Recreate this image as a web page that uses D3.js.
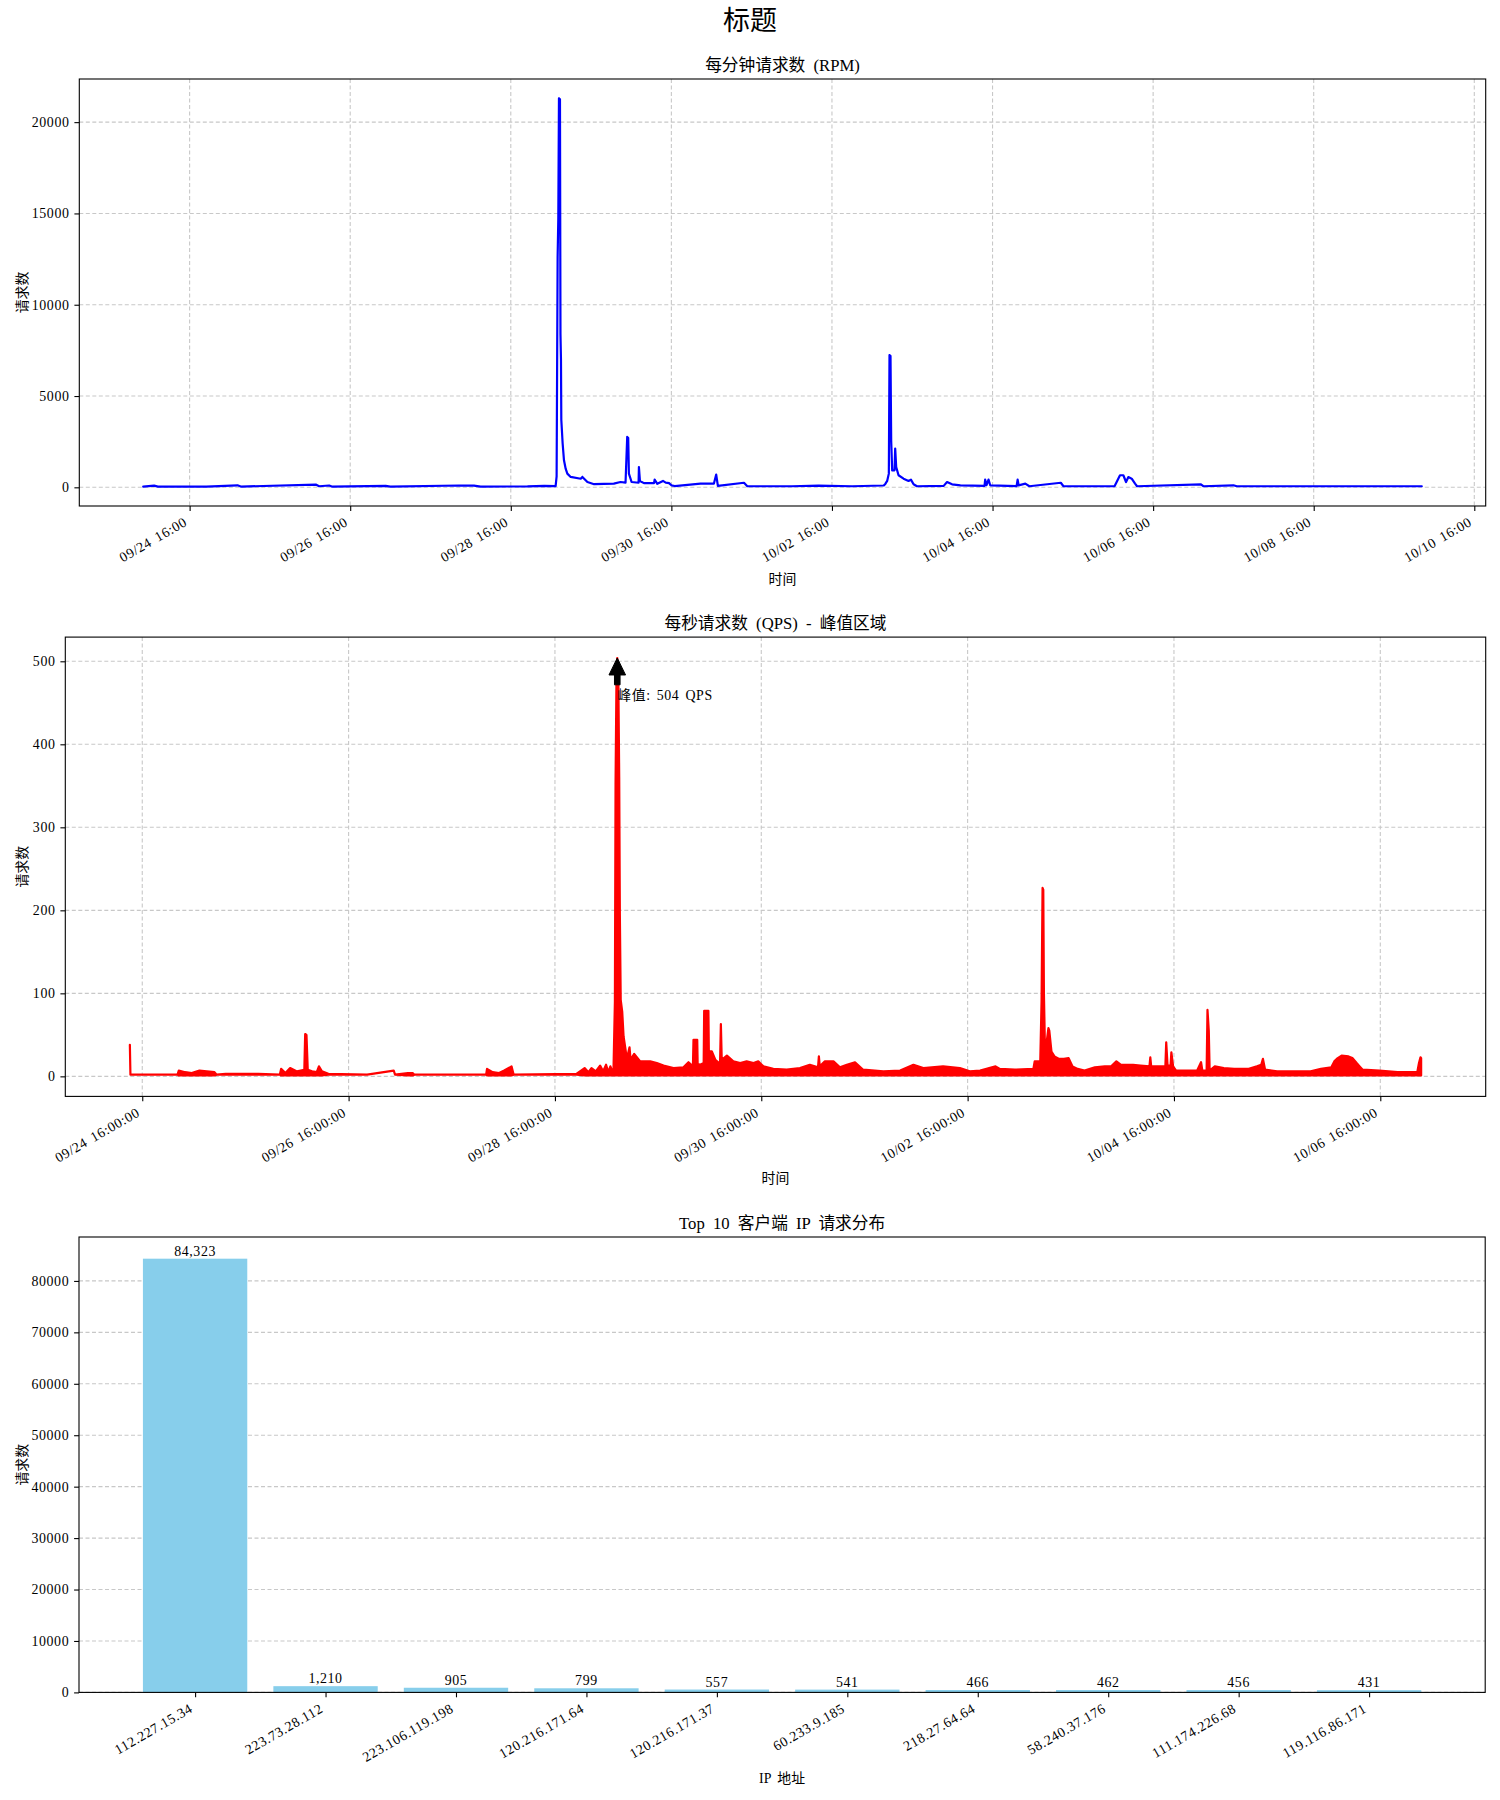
<!DOCTYPE html>
<html>
<head>
<meta charset="utf-8">
<title>标题</title>
<script src="https://cdn.jsdelivr.net/npm/d3@7/dist/d3.min.js"></script>
<style>
  body { margin: 0; background: #ffffff; }
  text { font-family: "Liberation Serif", "Noto Sans CJK SC", serif; fill: #000; }
  .num { font-size: 13.9px; letter-spacing: 0.6px; word-spacing: 2px; }
  .label { font-size: 13.9px; word-spacing: 3px; }
  .title { font-size: 16.7px; word-spacing: 4px; }
  .suptitle { font-size: 27px; }
</style>
</head>
<body>
<svg id="chart" width="1500" height="1800"></svg>
<script>
const YEAR = "2025";
const figTitle = "标题";

// 每分钟请求数: [time, requests per minute]
const rpmPoints = [
  ["09/24 02:08", 40], ["09/24 05:24", 90], ["09/24 06:30", 40], ["09/24 21:00", 40], ["09/25 06:18", 110], ["09/25 07:18", 40],
  ["09/26 05:42", 150], ["09/26 06:42", 60], ["09/26 09:42", 100], ["09/26 10:30", 40], ["09/27 02:36", 80], ["09/27 04:00", 40],
  ["09/28 00:30", 100], ["09/28 05:00", 90], ["09/28 07:00", 40], ["09/28 21:00", 50], ["09/29 02:00", 80], ["09/29 05:24", 70],
  ["09/29 05:42", 600], ["09/29 06:00", 12600], ["09/29 06:12", 14700], ["09/29 06:24", 21300], ["09/29 06:42", 21250], ["09/29 06:51", 8400],
  ["09/29 07:00", 7000], ["09/29 07:06", 3700], ["09/29 07:30", 2400], ["09/29 07:54", 1480], ["09/29 08:24", 1020], ["09/29 08:54", 750],
  ["09/29 09:54", 570], ["09/29 12:54", 470], ["09/29 13:24", 570], ["09/29 14:54", 290], ["09/29 16:54", 170], ["09/29 22:48", 200],
  ["09/30 00:48", 290], ["09/30 02:18", 260], ["09/30 02:48", 2760], ["09/30 03:06", 2700], ["09/30 03:18", 750], ["09/30 03:48", 470],
  ["09/30 04:06", 290], ["09/30 06:12", 250], ["09/30 06:18", 1110], ["09/30 06:36", 350], ["09/30 07:48", 230], ["09/30 10:48", 230],
  ["09/30 11:00", 420], ["09/30 11:48", 190], ["09/30 13:30", 350], ["09/30 14:18", 260], ["09/30 15:18", 230], ["09/30 16:00", 110],
  ["09/30 17:00", 70], ["10/01 00:42", 200], ["10/01 04:42", 200], ["10/01 05:24", 700], ["10/01 05:54", 80], ["10/01 13:42", 250],
  ["10/01 14:42", 60], ["10/02 04:00", 60], ["10/02 12:00", 90], ["10/02 22:00", 60], ["10/03 07:30", 100], ["10/03 08:00", 200],
  ["10/03 08:30", 350], ["10/03 09:00", 750], ["10/03 09:12", 7240], ["10/03 09:30", 7200], ["10/03 09:42", 2580], ["10/03 10:00", 930],
  ["10/03 10:42", 930], ["10/03 10:54", 2120], ["10/03 11:12", 1110], ["10/03 11:54", 660], ["10/03 13:24", 475], ["10/03 14:54", 350],
  ["10/03 15:36", 420], ["10/03 16:24", 165], ["10/03 17:24", 60], ["10/04 01:24", 80], ["10/04 02:24", 290], ["10/04 03:54", 165],
  ["10/04 06:24", 110], ["10/04 13:36", 80], ["10/04 13:48", 420], ["10/04 14:12", 120], ["10/04 14:48", 420], ["10/04 15:18", 110],
  ["10/04 23:12", 70], ["10/04 23:30", 420], ["10/04 23:48", 110], ["10/05 01:48", 200], ["10/05 03:00", 60], ["10/05 12:24", 250],
  ["10/05 13:12", 60], ["10/06 04:30", 70], ["10/06 05:06", 290], ["10/06 06:06", 660], ["10/06 07:06", 660], ["10/06 07:54", 290],
  ["10/06 08:36", 560], ["10/06 09:36", 475], ["10/06 10:36", 200], ["10/06 11:12", 60], ["10/07 06:18", 160], ["10/07 07:00", 60],
  ["10/07 16:00", 110], ["10/07 17:00", 60], ["10/08 20:00", 60], ["10/10 00:18", 60]
];
const rpmTickLabels = ["09/24 16:00", "09/26 16:00", "09/28 16:00", "09/30 16:00", "10/02 16:00",
  "10/04 16:00", "10/06 16:00", "10/08 16:00", "10/10 16:00"];

// 每秒请求数: [time, min QPS, max QPS] per time bucket
const qpsPoints = [
  ["09/24 13:07", 38, 38], ["09/24 13:15", 2, 2], ["09/25 00:12", 2, 2], ["09/25 00:30", 1, 7], ["09/25 02:00", 1, 5],
  ["09/25 03:30", 1, 4], ["09/25 05:18", 1, 7], ["09/25 07:00", 1, 6], ["09/25 08:48", 1, 5], ["09/25 09:18", 2, 2],
  ["09/25 11:24", 2, 3], ["09/25 19:00", 2, 3], ["09/26 00:00", 2, 2], ["09/26 00:18", 1, 9], ["09/26 01:18", 1, 4],
  ["09/26 02:24", 1, 10], ["09/26 04:00", 1, 6], ["09/26 05:42", 1, 8], ["09/26 05:54", 1, 51], ["09/26 06:12", 1, 50],
  ["09/26 06:30", 1, 8], ["09/26 07:30", 1, 6], ["09/26 08:36", 1, 5], ["09/26 09:06", 1, 12], ["09/26 09:48", 1, 6],
  ["09/26 11:18", 2, 3], ["09/26 20:18", 2, 2], ["09/27 02:30", 7, 7], ["09/27 02:48", 2, 2], ["09/27 05:48", 1, 4],
  ["09/27 06:54", 1, 4], ["09/27 07:18", 2, 2], ["09/28 00:00", 2, 2], ["09/28 00:12", 1, 9], ["09/28 01:30", 1, 5],
  ["09/28 03:00", 1, 4], ["09/28 04:12", 1, 7], ["09/28 05:54", 1, 12], ["09/28 06:24", 2, 2], ["09/28 21:00", 2, 3],
  ["09/28 22:54", 1, 10], ["09/28 23:48", 1, 5], ["09/29 00:30", 1, 10], ["09/29 01:30", 1, 6], ["09/29 02:30", 1, 13],
  ["09/29 03:12", 1, 6], ["09/29 03:54", 1, 14], ["09/29 04:24", 1, 5], ["09/29 04:54", 1, 12], ["09/29 05:36", 1, 3],
  ["09/29 05:57", 1, 90], ["09/29 06:06", 1, 352], ["09/29 06:18", 1, 470], ["09/29 06:30", 1, 504], ["09/29 06:45", 1, 480],
  ["09/29 06:57", 1, 360], ["09/29 07:06", 1, 196], ["09/29 07:18", 1, 92], ["09/29 07:39", 1, 78], ["09/29 07:58", 1, 48],
  ["09/29 08:21", 1, 35], ["09/29 08:44", 1, 21], ["09/29 09:21", 1, 35], ["09/29 09:36", 1, 20], ["09/29 10:26", 1, 27],
  ["09/29 11:50", 1, 18], ["09/29 14:10", 1, 18], ["09/29 15:42", 1, 16], ["09/29 17:16", 1, 13], ["09/29 19:35", 1, 10],
  ["09/29 21:54", 1, 11], ["09/29 23:04", 1, 17], ["09/30 00:06", 1, 12], ["09/30 00:14", 1, 44], ["09/30 01:06", 1, 44],
  ["09/30 01:12", 1, 15], ["09/30 01:47", 1, 14], ["09/30 02:36", 1, 16], ["09/30 02:43", 1, 79], ["09/30 03:42", 1, 79],
  ["09/30 03:48", 1, 30], ["09/30 04:30", 1, 30], ["09/30 05:18", 1, 20], ["09/30 06:24", 1, 15], ["09/30 06:36", 1, 63],
  ["09/30 06:48", 1, 20], ["09/30 08:00", 1, 25], ["09/30 09:30", 1, 18], ["09/30 11:06", 1, 16], ["09/30 12:36", 1, 18],
  ["09/30 14:12", 1, 16], ["09/30 15:18", 1, 18], ["09/30 16:30", 1, 12], ["09/30 18:48", 1, 9], ["09/30 21:54", 1, 8],
  ["10/01 01:00", 1, 10], ["10/01 03:18", 1, 14], ["10/01 05:12", 1, 11], ["10/01 05:24", 1, 24], ["10/01 05:36", 1, 12],
  ["10/01 06:48", 1, 18], ["10/01 08:48", 1, 18], ["10/01 10:18", 1, 11], ["10/01 11:54", 1, 14], ["10/01 13:48", 1, 17],
  ["10/01 15:42", 1, 8], ["10/01 20:24", 1, 6], ["10/02 00:18", 1, 7], ["10/02 03:24", 1, 14], ["10/02 05:42", 1, 10],
  ["10/02 10:18", 1, 12], ["10/02 14:12", 1, 10], ["10/02 16:30", 1, 6], ["10/02 18:54", 1, 7], ["10/02 22:30", 1, 12],
  ["10/02 23:30", 1, 9], ["10/03 03:00", 1, 8], ["10/03 07:18", 1, 9], ["10/03 07:36", 1, 18], ["10/03 08:54", 1, 18],
  ["10/03 09:12", 1, 90], ["10/03 09:26", 1, 227], ["10/03 09:36", 1, 225], ["10/03 09:45", 1, 100], ["10/03 09:57", 1, 45],
  ["10/03 10:21", 1, 40], ["10/03 10:48", 1, 58], ["10/03 11:00", 1, 55], ["10/03 11:30", 1, 30], ["10/03 12:12", 1, 24],
  ["10/03 13:18", 1, 21], ["10/03 14:24", 1, 21], ["10/03 15:30", 1, 22], ["10/03 16:24", 1, 12], ["10/03 17:36", 1, 9],
  ["10/03 19:12", 1, 7], ["10/03 21:36", 1, 11], ["10/03 23:54", 1, 12], ["10/04 01:24", 1, 12], ["10/04 02:36", 1, 18],
  ["10/04 03:36", 1, 14], ["10/04 06:30", 1, 14], ["10/04 08:12", 1, 13], ["10/04 10:18", 1, 12], ["10/04 10:30", 1, 23],
  ["10/04 10:42", 1, 12], ["10/04 12:36", 1, 12], ["10/04 14:00", 1, 12], ["10/04 14:12", 1, 41], ["10/04 14:30", 1, 14],
  ["10/04 15:12", 1, 12], ["10/04 15:24", 1, 29], ["10/04 15:48", 1, 12], ["10/04 16:30", 1, 7], ["10/04 21:24", 1, 7],
  ["10/04 22:18", 1, 17], ["10/04 22:36", 1, 7], ["10/04 23:36", 1, 7], ["10/04 23:48", 1, 80], ["10/05 00:06", 1, 55],
  ["10/05 00:18", 1, 7], ["10/05 01:30", 1, 12], ["10/05 03:36", 1, 10], ["10/05 06:00", 1, 9], ["10/05 09:24", 1, 9],
  ["10/05 11:18", 1, 12], ["10/05 12:18", 1, 14], ["10/05 12:42", 1, 21], ["10/05 13:12", 1, 8], ["10/05 16:00", 1, 6],
  ["10/05 23:48", 1, 6], ["10/06 02:12", 1, 9], ["10/06 04:36", 1, 11], ["10/06 05:18", 1, 18], ["10/06 06:06", 1, 22],
  ["10/06 07:00", 1, 25], ["10/06 08:36", 1, 24], ["10/06 09:30", 1, 22], ["10/06 10:30", 1, 16], ["10/06 11:12", 1, 12],
  ["10/06 11:54", 1, 8], ["10/06 15:48", 1, 7], ["10/06 20:00", 1, 5], ["10/07 00:36", 1, 5], ["10/07 01:00", 1, 16],
  ["10/07 01:21", 1, 23], ["10/07 01:30", 1, 22]
];
const qpsTickLabels = ["09/24 16:00:00", "09/26 16:00:00", "09/28 16:00:00", "09/30 16:00:00",
  "10/02 16:00:00", "10/04 16:00:00", "10/06 16:00:00"];

// Top 10 客户端 IP
const ipLabels = ["112.227.15.34", "223.73.28.112", "223.106.119.198", "120.216.171.64", "120.216.171.37",
  "60.233.9.185", "218.27.64.64", "58.240.37.176", "111.174.226.68", "119.116.86.171"];
const ipCounts = [84323, 1210, 905, 799, 557, 541, 466, 462, 456, 431];

const parseMin = d3.timeParse("%Y/%m/%d %H:%M");
const parseSec = d3.timeParse("%Y/%m/%d %H:%M:%S");
const toDate = s => (s.length > 11 ? parseSec : parseMin)(YEAR + "/" + s);

const TICK = 4.9, PAD = 4.9;
const GRID = "#c8c8c8";

function styleAxis(axisG) {
    axisG.attr("font-family", null).attr("font-size", null);
    axisG.select(".domain").remove();
    axisG.selectAll(".tick line").attr("stroke", "#000").attr("stroke-width", 1.1);
    axisG.selectAll(".tick text").attr("class", "num").attr("fill", "#000");
}

function rotateXLabels(axisG) {
    axisG.selectAll(".tick text")
        .attr("x", null).attr("y", null).attr("dy", null)
        .attr("text-anchor", "end")
        .attr("transform", `translate(-2,${TICK + PAD + 9}) rotate(-30)`);
}

function drawFrame(g, box, cfg) {
    g.append("text")
        .attr("class", "title")
        .attr("x", (box.left + box.right) / 2)
        .attr("y", box.top - 14)
        .attr("text-anchor", "middle")
        .attr("dominant-baseline", "central")
        .text(cfg.title);

    g.append("text")
        .attr("class", "label")
        .attr("x", (box.left + box.right) / 2)
        .attr("y", cfg.xLabelY)
        .attr("text-anchor", "middle")
        .attr("dominant-baseline", "central")
        .text(cfg.xLabel);

    g.append("text")
        .attr("class", "label")
        .attr("transform", `translate(22,${(box.top + box.bottom) / 2}) rotate(-90)`)
        .attr("text-anchor", "middle")
        .attr("dominant-baseline", "central")
        .text(cfg.yLabel);

    g.append("rect")
        .attr("x", box.left).attr("y", box.top)
        .attr("width", box.right - box.left).attr("height", box.bottom - box.top)
        .attr("fill", "none").attr("stroke", "#000").attr("stroke-width", 1.1);
}

function DrawTimePanel(svg, box, cfg) {
    const times = cfg.points.map(d => toDate(d[0]));
    const lo = cfg.points.map(d => d[1]);
    const hi = cfg.points.map(d => d.length > 2 ? d[2] : d[1]);

    // matplotlib style 5% margins
    const [t0, t1] = d3.extent(times);
    const tPad = (t1 - t0) * 0.05;
    const x = d3.scaleTime()
        .domain([new Date(+t0 - tPad), new Date(+t1 + tPad)])
        .range([box.left, box.right]);
    const vMin = d3.min(lo), vMax = d3.max(hi);
    const vPad = (vMax - vMin) * 0.05;
    const y = d3.scaleLinear()
        .domain([vMin - vPad, vMax + vPad])
        .range([box.bottom, box.top]);

    const ticks = cfg.tickLabels.map(toDate);
    const yTicks = y.ticks(cfg.yTickCount).filter(v => v >= 0);

    const g = svg.append("g");

    // grid
    g.selectAll(".vgrid").data(ticks).enter().append("line")
        .attr("x1", d => x(d)).attr("x2", d => x(d))
        .attr("y1", box.top).attr("y2", box.bottom)
        .attr("stroke", GRID).attr("stroke-width", 1.1).attr("stroke-dasharray", "4,2.5");
    g.selectAll(".hgrid").data(yTicks).enter().append("line")
        .attr("x1", box.left).attr("x2", box.right)
        .attr("y1", d => y(d)).attr("y2", d => y(d))
        .attr("stroke", GRID).attr("stroke-width", 1.1).attr("stroke-dasharray", "4,2.5");

    // series: min/max band of the dense trace
    const band = d3.area()
        .x((d, i) => x(times[i]))
        .y0((d, i) => y(lo[i]))
        .y1((d, i) => y(hi[i]));
    g.append("path")
        .datum(cfg.points)
        .attr("d", band)
        .attr("fill", cfg.color)
        .attr("stroke", cfg.color)
        .attr("stroke-width", 2.2)
        .attr("stroke-linejoin", "round");

    // axes
    const xg = g.append("g")
        .attr("transform", `translate(0,${box.bottom})`)
        .call(d3.axisBottom(x).tickValues(ticks).tickFormat((d, i) => cfg.tickLabels[i]).tickSize(TICK).tickPadding(PAD));
    styleAxis(xg);
    rotateXLabels(xg);

    const yg = g.append("g")
        .attr("transform", `translate(${box.left},0)`)
        .call(d3.axisLeft(y).tickValues(yTicks).tickFormat(d3.format("d")).tickSize(TICK).tickPadding(PAD));
    styleAxis(yg);

    if (cfg.annotate) {
        const iMax = d3.maxIndex(hi);
        const px = x(times[iMax]);
        const py = y(hi[iMax]);
        const ty = y(hi[iMax] * 0.9);
        const headBase = py + 17, tail = ty - 15;
        const hw = 8.3, sw = 2.8;
        g.append("path")
            .attr("d", `M${px},${py} L${px + hw},${headBase} L${px + sw},${headBase} L${px + sw},${tail}` +
                ` L${px - sw},${tail} L${px - sw},${headBase} L${px - hw},${headBase} Z`)
            .attr("fill", "#000").attr("stroke", "#000").attr("stroke-width", 1);
        g.append("text")
            .attr("class", "num")
            .attr("x", px).attr("y", ty)
            .text(`峰值: ${hi[iMax]} QPS`);
    }

    drawFrame(g, box, cfg);
}

function DrawBarPanel(svg, box, cfg) {
    const n = cfg.labels.length;
    const half = 0.4;
    const xPad = (n - 1 + 2 * half) * 0.05;
    const x = d3.scaleLinear()
        .domain([-half - xPad, n - 1 + half + xPad])
        .range([box.left, box.right]);
    const y = d3.scaleLinear()
        .domain([0, d3.max(cfg.values) * 1.05])
        .range([box.bottom, box.top]);
    const yTicks = y.ticks(9);

    const g = svg.append("g");

    g.selectAll(".hgrid").data(yTicks).enter().append("line")
        .attr("x1", box.left).attr("x2", box.right)
        .attr("y1", d => y(d)).attr("y2", d => y(d))
        .attr("stroke", GRID).attr("stroke-width", 1.1).attr("stroke-dasharray", "4,2.5");

    g.selectAll(".bar").data(cfg.values).enter().append("rect")
        .attr("x", (d, i) => x(i - half))
        .attr("width", (d, i) => x(i + half) - x(i - half))
        .attr("y", d => y(d))
        .attr("height", d => y(0) - y(d))
        .attr("fill", cfg.color);

    g.selectAll(".value").data(cfg.values).enter().append("text")
        .attr("class", "num")
        .attr("x", (d, i) => x(i))
        .attr("y", d => y(d) - 3)
        .attr("text-anchor", "middle")
        .text(d3.format(","));

    const xg = g.append("g")
        .attr("transform", `translate(0,${box.bottom})`)
        .call(d3.axisBottom(x).tickValues(d3.range(n)).tickFormat(i => cfg.labels[i]).tickSize(TICK).tickPadding(PAD));
    styleAxis(xg);
    rotateXLabels(xg);

    const yg = g.append("g")
        .attr("transform", `translate(${box.left},0)`)
        .call(d3.axisLeft(y).tickValues(yTicks).tickFormat(d3.format("d")).tickSize(TICK).tickPadding(PAD));
    styleAxis(yg);

    drawFrame(g, box, cfg);
}

const svg = d3.select("#chart");

svg.append("text")
    .attr("class", "suptitle")
    .attr("x", 750).attr("y", 21)
    .attr("text-anchor", "middle")
    .attr("dominant-baseline", "central")
    .text(figTitle);

DrawTimePanel(svg, { left: 79.3, top: 79, right: 1485.7, bottom: 506 }, {
    points: rpmPoints,
    tickLabels: rpmTickLabels,
    color: "#0000ff",
    yTickCount: 5,
    title: "每分钟请求数 (RPM)",
    xLabel: "时间",
    yLabel: "请求数",
    xLabelY: 579.6
});

DrawTimePanel(svg, { left: 65.3, top: 637.1, right: 1485.7, bottom: 1096.4 }, {
    points: qpsPoints,
    tickLabels: qpsTickLabels,
    color: "#ff0000",
    yTickCount: 6,
    title: "每秒请求数 (QPS) - 峰值区域",
    xLabel: "时间",
    yLabel: "请求数",
    xLabelY: 1178.6,
    annotate: true
});

DrawBarPanel(svg, { left: 79, top: 1237, right: 1485.2, bottom: 1692.4 }, {
    labels: ipLabels,
    values: ipCounts,
    color: "#87ceeb",
    title: "Top 10 客户端 IP 请求分布",
    xLabel: "IP 地址",
    yLabel: "请求数",
    xLabelY: 1778.6
});
</script>
</body>
</html>
